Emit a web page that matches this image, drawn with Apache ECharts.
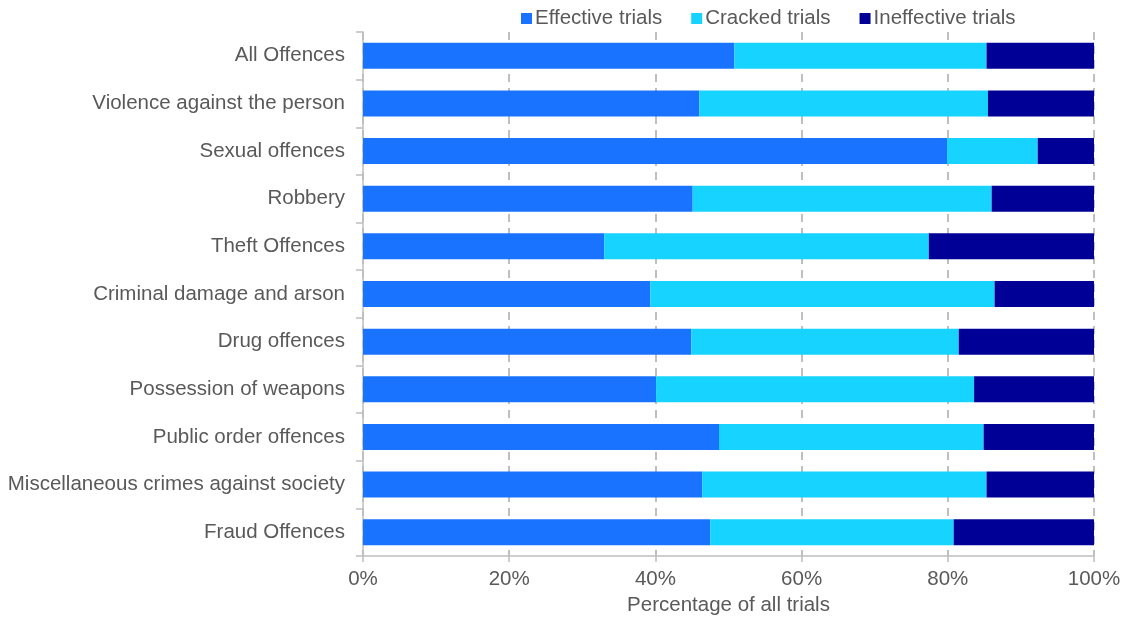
<!DOCTYPE html>
<html>
<head>
<meta charset="utf-8">
<title>Trial outcomes by offence</title>
<script src="https://cdn.jsdelivr.net/npm/echarts@6.0.0/dist/echarts.min.js"></script>
<style>
  html, body { margin: 0; padding: 0; background: #fff; }
  #chart { width: 1124px; height: 617px; }
</style>
</head>
<body>
<div id="chart"></div>
<script>
const categories = [
  "All Offences",
  "Violence against the person",
  "Sexual offences",
  "Robbery",
  "Theft Offences",
  "Criminal damage and arson",
  "Drug offences",
  "Possession of weapons",
  "Public order offences",
  "Miscellaneous crimes against society",
  "Fraud Offences",
];
const effective = [50.8, 46.0, 79.9, 45.1, 33.0, 39.3, 44.9, 40.1, 48.7, 46.4, 47.5];
const cracked = [34.5, 39.5, 12.4, 40.9, 44.4, 47.1, 36.6, 43.5, 36.2, 38.9, 33.3];
const ineffective = [14.7, 14.5, 7.7, 14.0, 22.6, 13.6, 18.5, 16.4, 15.1, 14.7, 19.2];
const xTicks = [0, 20, 40, 60, 80, 100];

const textColor = "#595959";
const font = "Liberation Sans, Arial, sans-serif";

const chart = echarts.init(document.getElementById("chart"));

const makeSeries = (name, data, color) => ({
  name: name,
  type: "bar",
  stack: "total",
  barWidth: 26,
  data: data,
  itemStyle: { color: color },
});

const option = {
  animation: false,
  textStyle: { fontFamily: font },
  legend: {
    top: 3,
    left: 516,
    itemWidth: 11,
    itemHeight: 11,
    itemGap: 29,
    icon: "rect",
    textStyle: { color: textColor, fontSize: 20.5, fontFamily: font, padding: [0, 0, 0, -2] },
    data: ["Effective trials", "Cracked trials", "Ineffective trials"],
  },
  grid: {
    top: 32,
    left: 363,
    right: 30,
    bottom: 61,
    containLabel: false,
    outerBoundsMode: "none",
  },
  xAxis: {
    type: "value",
    min: 0,
    max: 100,
    interval: 20,
    name: "Percentage of all trials",
    nameLocation: "middle",
    nameGap: 38,
    nameTextStyle: { color: textColor, fontSize: 20.5, fontFamily: font },
    axisLine: { show: true, lineStyle: { color: "#bfbfbf", width: 1.5 } },
    axisTick: { show: true, length: 6, lineStyle: { color: "#bfbfbf", width: 1.5 } },
    axisLabel: {
      color: textColor,
      fontSize: 20.5,
      fontFamily: font,
      margin: 13,
      formatter: (v) => (xTicks.includes(v) ? v + "%" : ""),
    },
    splitLine: {
      show: true,
      lineStyle: { color: "#bfbfbf", width: 2, type: [8, 6] },
    },
  },
  yAxis: {
    type: "category",
    inverse: true,
    data: categories,
    axisLine: { show: true, lineStyle: { color: "#bfbfbf", width: 1.5 } },
    axisTick: { show: true, length: 7, alignWithLabel: false, lineStyle: { color: "#bfbfbf", width: 1.5 } },
    axisLabel: { color: textColor, fontSize: 20.5, fontFamily: font, margin: 18 },
  },
  series: [
    makeSeries("Effective trials", effective, "#1a73ff"),
    makeSeries("Cracked trials", cracked, "#17d3ff"),
    makeSeries("Ineffective trials", ineffective, "#000096"),
  ],
};

chart.setOption(option);
</script>
</body>
</html>
